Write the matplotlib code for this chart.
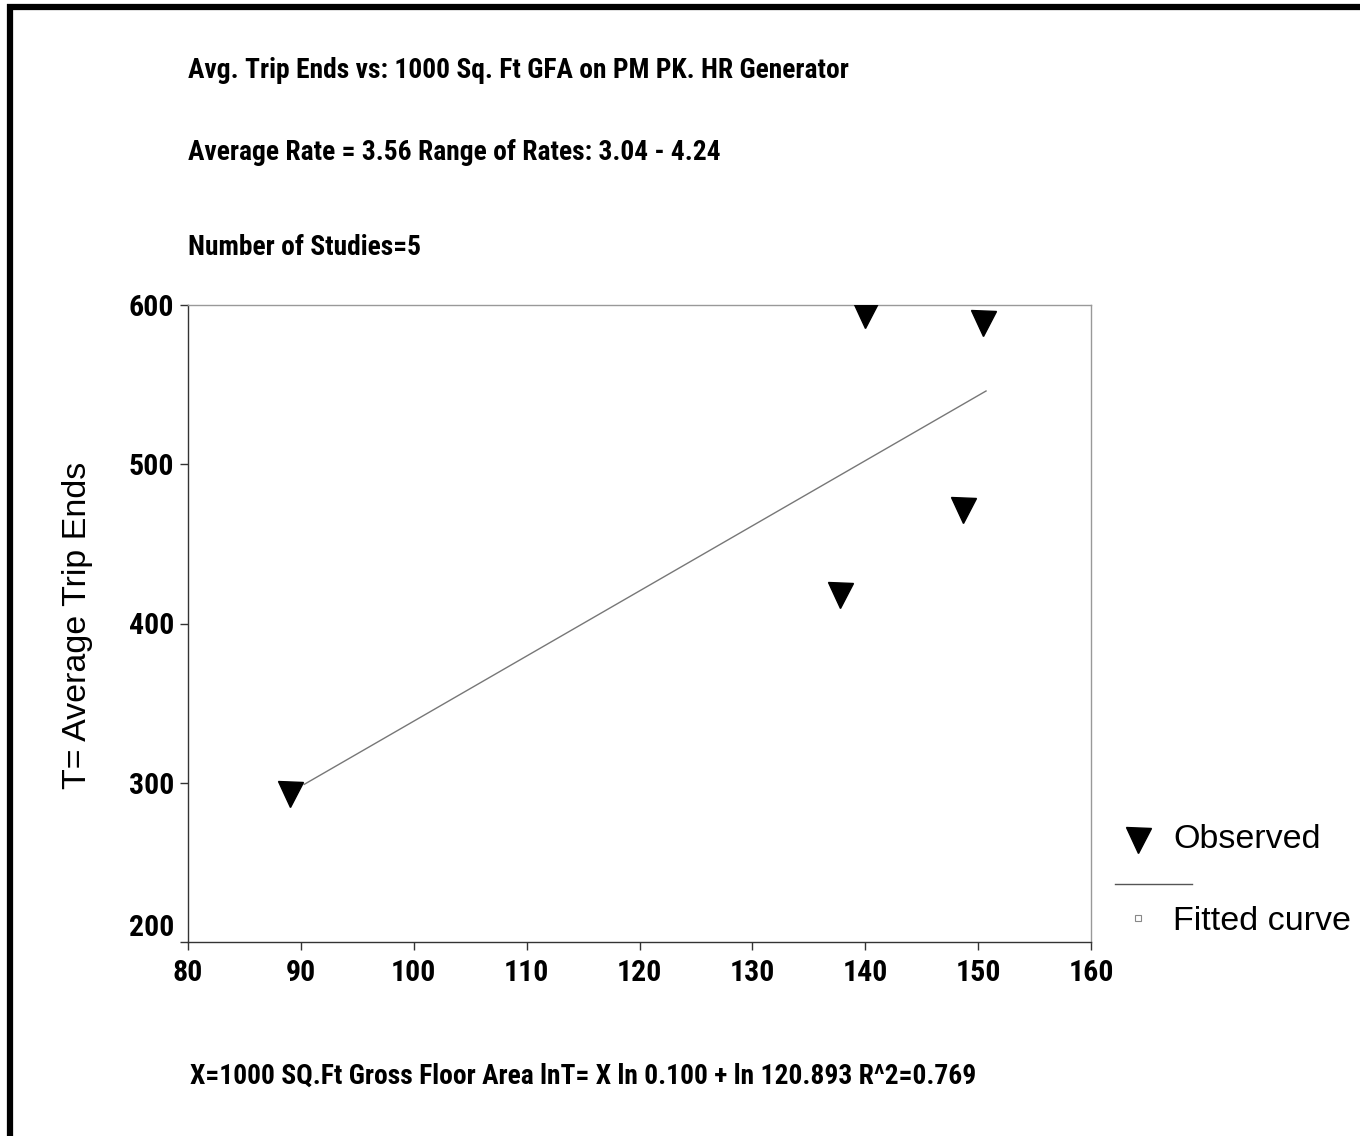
import matplotlib
matplotlib.use("Agg")
import matplotlib.pyplot as plt
from matplotlib import font_manager
from matplotlib.lines import Line2D

# ---- data ----
obs_x = [89.0, 137.8, 140.0, 148.7, 150.4]
obs_y = [293, 418, 594, 471, 589]
fit_x = [90.3, 150.7]
fit_y = [299, 546]
x_ticks = [80, 90, 100, 110, 120, 130, 140, 150, 160]
y_ticks = [200, 300, 400, 500, 600]

title_lines = [
    "Avg. Trip Ends vs: 1000 Sq. Ft GFA on PM PK. HR Generator",
    "Average Rate = 3.56 Range of Rates: 3.04 - 4.24",
    "Number of Studies=5",
]
bottom_text = "X=1000 SQ.Ft Gross Floor Area lnT= X ln 0.100 + ln 120.893 R^2=0.769"
y_label = "T= Average Trip Ends"

# ---- fonts ----
names = {f.name for f in font_manager.fontManager.ttflist}
cond = None
for cand in ["Liberation Sans Narrow", "DejaVu Sans Condensed", "Roboto Condensed",
             "Open Sans Condensed", "Liberation Sans"]:
    if cand in names:
        cond = cand
        break
if cond is None:
    cond = "DejaVu Sans"
COND = dict(family=[cond, "DejaVu Sans"], fontweight="bold", fontstretch="condensed")
REG = dict(family=["Liberation Sans", "DejaVu Sans"])

W, H = 1360, 1136
fig = plt.figure(figsize=(W / 100, H / 100), dpi=100)
fig.patch.set_facecolor("white")

def fx(px):
    return px / W

def fy(py):
    return 1 - py / H

ax = fig.add_axes([fx(188), fy(942), fx(1091) - fx(188), fy(305) - fy(942)])
ax.set_xlim(80, 160)
ax.set_ylim(200, 600)

ax.plot(fit_x, fit_y, color="#777777", lw=1.0, zorder=2)
ax.plot(obs_x, obs_y, linestyle="none", marker="v", ms=18, color="black", zorder=3)

ax.set_xticks(x_ticks)
ax.set_yticks(y_ticks)
ax.set_xticklabels([str(v) for v in x_ticks], fontsize=21.5, **COND)
ax.set_yticklabels([str(v) for v in y_ticks], fontsize=21.5, **COND)
ax.yaxis.get_ticklabels()[0].set_va("bottom")
ax.tick_params(axis="both", direction="out", length=6, width=1, color="#333333")
ax.tick_params(axis="x", pad=6)
ax.tick_params(axis="y", pad=4)
for s in ["left", "bottom"]:
    ax.spines[s].set_color("#333333")
    ax.spines[s].set_linewidth(1.0)
for s in ["top", "right"]:
    ax.spines[s].set_color("#999999")
    ax.spines[s].set_linewidth(1.0)

ax.set_ylabel(y_label, fontsize=24.5, labelpad=38, **REG)
ax.yaxis.set_label_coords(fx(78) - fx(188), 0.5, transform=None)
ax.yaxis.label.set_transform(fig.transFigure)
ax.yaxis.label.set_position((fx(78), fy(625)))
ax.yaxis.label.set_va("center")

# titles
for txt, py in zip(title_lines, [70, 153, 248]):
    fig.text(fx(188), fy(py), txt, ha="left", va="center", fontsize=19.8, **COND)
fig.text(fx(190), fy(1076), bottom_text, ha="left", va="center", fontsize=19.8, **COND)

# legend (manual, matching the original layout)
fig.add_artist(Line2D([fx(1138)], [fy(840)], marker="v", ms=18, color="black",
                      linestyle="none", transform=fig.transFigure))
fig.text(fx(1173), fy(840), "Observed", ha="left", va="center", fontsize=24.5, **REG)
fig.add_artist(Line2D([fx(1115), fx(1192)], [fy(884), fy(884)], color="#555555", lw=1.0,
                      transform=fig.transFigure))
fig.add_artist(Line2D([fx(1138)], [fy(918)], marker="s", ms=5, mfc="white", mec="#888888",
                      mew=0.8, linestyle="none", transform=fig.transFigure))
fig.text(fx(1173), fy(921), "Fitted curve", ha="left", va="center", fontsize=24.5, **REG)

# outer black frame (top and left edges)
fig.add_artist(Line2D([fx(7), fx(1360)], [fy(7), fy(7)], color="black", lw=4.5,
                      solid_capstyle="butt", transform=fig.transFigure))
fig.add_artist(Line2D([fx(10), fx(10)], [fy(4), fy(1136)], color="black", lw=4.5,
                      solid_capstyle="butt", transform=fig.transFigure))

fig.savefig("out.png", dpi=100, facecolor="white")
